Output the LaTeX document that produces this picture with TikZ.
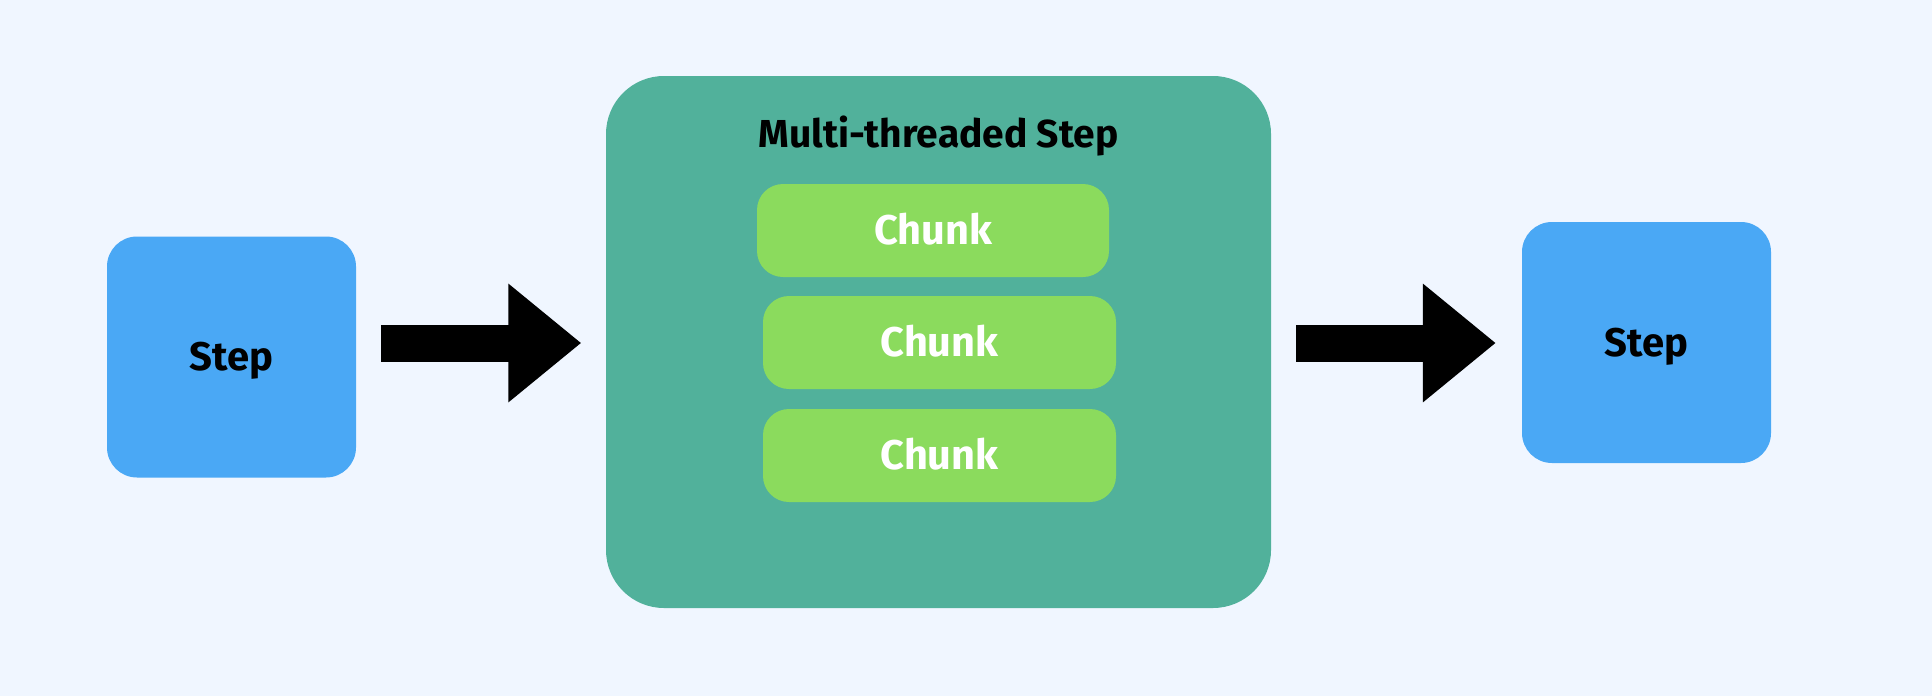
\documentclass[tikz,border=0pt]{standalone}
\usepackage{fontspec}
\setmainfont{Fira Sans}
\usepackage{xcolor}
\usetikzlibrary{shapes, positioning, arrows.meta}

\definecolor{bgcol}{RGB}{240,246,255}
\definecolor{stepblue}{RGB}{74,168,245}
\definecolor{multiteal}{RGB}{81,177,155}
\definecolor{chunkgreen}{RGB}{139,219,93}

\tikzset{
    stepbox/.style={fill=stepblue, rounded corners=30pt, minimum width=249pt, minimum height=241pt,
        inner sep=0pt, text height=27.5pt, text depth=0pt, font=\fontsize{40}{44}\selectfont\bfseries},
    bigbox/.style={fill=multiteal, rounded corners=58pt, minimum width=665pt, minimum height=532pt, inner sep=0pt},
    chunkbox/.style={fill=chunkgreen, rounded corners=26pt, minimum width=353pt, minimum height=93pt,
        inner sep=0pt, text=white, text height=28.6pt, text depth=0pt, font=\fontsize{41.5}{44}\selectfont\bfseries},
    blockarrow/.style={line width=37pt, -{Triangle[length=73pt, width=114pt]}}
}

\begin{document}
\begin{tikzpicture}[x=1pt, y=-1pt]
        \fill[bgcol] (0, 0) rectangle (1932, 696);
        \useasboundingbox (0, 0) rectangle (1932, 696);

        \node[stepbox] (first) at (231.5, 357) {Step};
        \node[bigbox] (multi) at (938.5, 342) {};
        \node[stepbox] (last) at (1646.5, 342.5) {Step};

        \node[anchor=base, font=\fontsize{39}{44}\selectfont\bfseries] (title) at (938.5, 147.5) {Multi-threaded Step};
        \node[chunkbox, minimum width=352pt] (chunka) at (933, 230.5) {Chunk};
        \node[chunkbox] (chunkb) at (939.5, 342.5) {Chunk};
        \node[chunkbox] (chunkc) at (939.5, 455.5) {Chunk};

        \coordinate (row) at (0, 343);
        \draw[blockarrow, shorten <=25pt, shorten >=24.5pt] (first.east |- row) -- (multi.west |- row);
        \draw[blockarrow, shorten <=25pt, shorten >=26pt] (multi.east |- row) -- (last.west |- row);
    \end{tikzpicture}
\end{document}
